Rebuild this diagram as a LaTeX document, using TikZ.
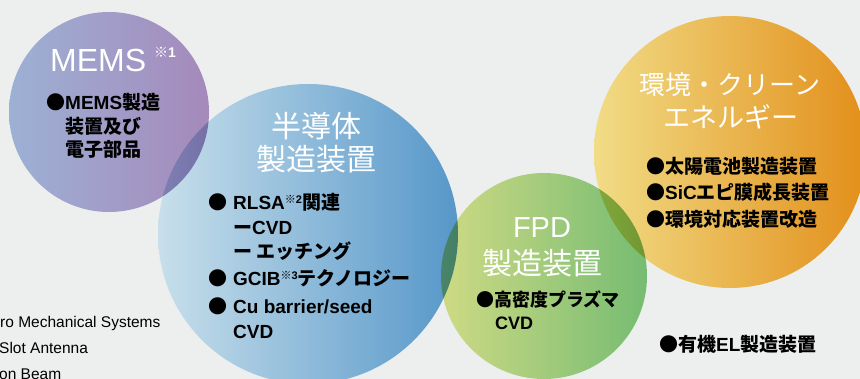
\documentclass[tikz,border=0pt]{standalone}
\usepackage{fontspec}
\setmainfont{Liberation Sans}
\newfontfamily\jp{Noto Sans CJK JP}
\definecolor{bg}{HTML}{EDEFEE}
\definecolor{memsL}{HTML}{9DB1D5}
\definecolor{memsR}{HTML}{A589BB}
\definecolor{semiL}{HTML}{C8DFEB}
\definecolor{semiR}{HTML}{5697C9}
\definecolor{fpdL}{HTML}{CEDA84}
\definecolor{fpdR}{HTML}{76BC72}
\definecolor{envL}{HTML}{F1DC86}
\definecolor{envR}{HTML}{E28F1A}
\newcommand{\fsz}[1]{\fontsize{#1}{#1}\selectfont}
\newcommand{\kome}[1]{\raisebox{6pt}{\fsz{11}{\jp ※}#1}}
\begin{document}
\begin{tikzpicture}[x=1pt,y=-1pt,
  ttl/.style={anchor=base, inner sep=0pt, text=white},
  bd/.style={anchor=base west, inner sep=0pt, text=black, font=\bfseries\fsz{19}},
  bdf/.style={anchor=base west, inner sep=0pt, text=black, font=\bfseries\fsz{18}},
  fn/.style={anchor=base west, inner sep=0pt, text=black, font=\fsz{15.5}}]
\useasboundingbox (0,0) rectangle (860,379);
\fill[bg] (0,0) rectangle (860,379);
\begin{scope}[transparency group]
\begin{scope}[blend mode=multiply]
\shade[left color=memsL, right color=memsR] (109,112) circle[radius=100pt];
\shade[left color=semiL, right color=semiR] (308,234) circle[radius=150pt];
\shade[left color=fpdL, right color=fpdR] (544,276) circle[radius=103pt];
\shade[left color=envL, right color=envR] (730,152) circle[radius=136pt];
\end{scope}
\end{scope}
% MEMS
\node[ttl, anchor=base west, font=\fsz{32}] (memsT) at (50,72) {MEMS};
\node[anchor=base west, inner sep=0pt, text=white, font=\bfseries\fsz{14}] (memsN) at (154,58) {{\jp ※}1};
\node[bd] (m1) at (46,110) {{\jp ●}MEMS{\jp 製造}};
\node[bd] (m2) at (65,134) {\jp 装置及び};
\node[bd] (m3) at (65,157) {\jp 電子部品};
% Semiconductor
\node[ttl, font=\jp\fsz{30}] (sT1) at (316,138) {半導体};
\node[ttl, font=\jp\fsz{30}] (sT2) at (316,171) {製造装置};
\node[bd] (s1b) at (208,210) {\jp ●};
\node[bd] (s1) at (233,210) {RLSA\kome{2}{\jp 関連}};
\node[bd] (s2) at (233,235) {{\jp ー}CVD};
\node[bd] (s3) at (233,259) {\jp ー エッチング};
\node[bd] (s4b) at (208,286) {\jp ●};
\node[bd] (s4) at (233,286) {GCIB\kome{3}{\jp テクノロジー}};
\node[bd] (s5b) at (208,314) {\jp ●};
\node[bd] (s5) at (233,314) {Cu barrier/seed};
\node[bd] (s6) at (233,339) {CVD};
% FPD
\node[ttl, font=\fsz{29}] (fT1) at (542,238) {FPD};
\node[ttl, font=\jp\fsz{30}] (fT2) at (542,275) {製造装置};
\node[bdf] (f1) at (476,307) {\jp ●高密度プラズマ};
\node[bdf] (f2) at (495,330) {CVD};
% Environment
\node[ttl, font=\jp\fsz{26}] (oT1) at (730,95) {環境・クリーン};
\node[ttl, font=\jp\fsz{27}] (oT2) at (731,128) {エネルギー};
\node[bd] (o1) at (646,174) {\jp ●太陽電池製造装置};
\node[bd] (o2) at (646,200) {{\jp ●}SiC{\jp エピ膜成長装置}};
\node[bd] (o3) at (646,227) {\jp ●環境対応装置改造};
\node[bd] (el) at (659,352) {{\jp ●有機}EL{\jp 製造装置}};
% footnotes
\node[fn] (fn1) at (0,328) {ro Mechanical Systems};
\node[fn] (fn2) at (-1,354) {Slot Antenna};
\node[fn] (fn3) at (-1,380) {on Beam};
\end{tikzpicture}
\end{document}
